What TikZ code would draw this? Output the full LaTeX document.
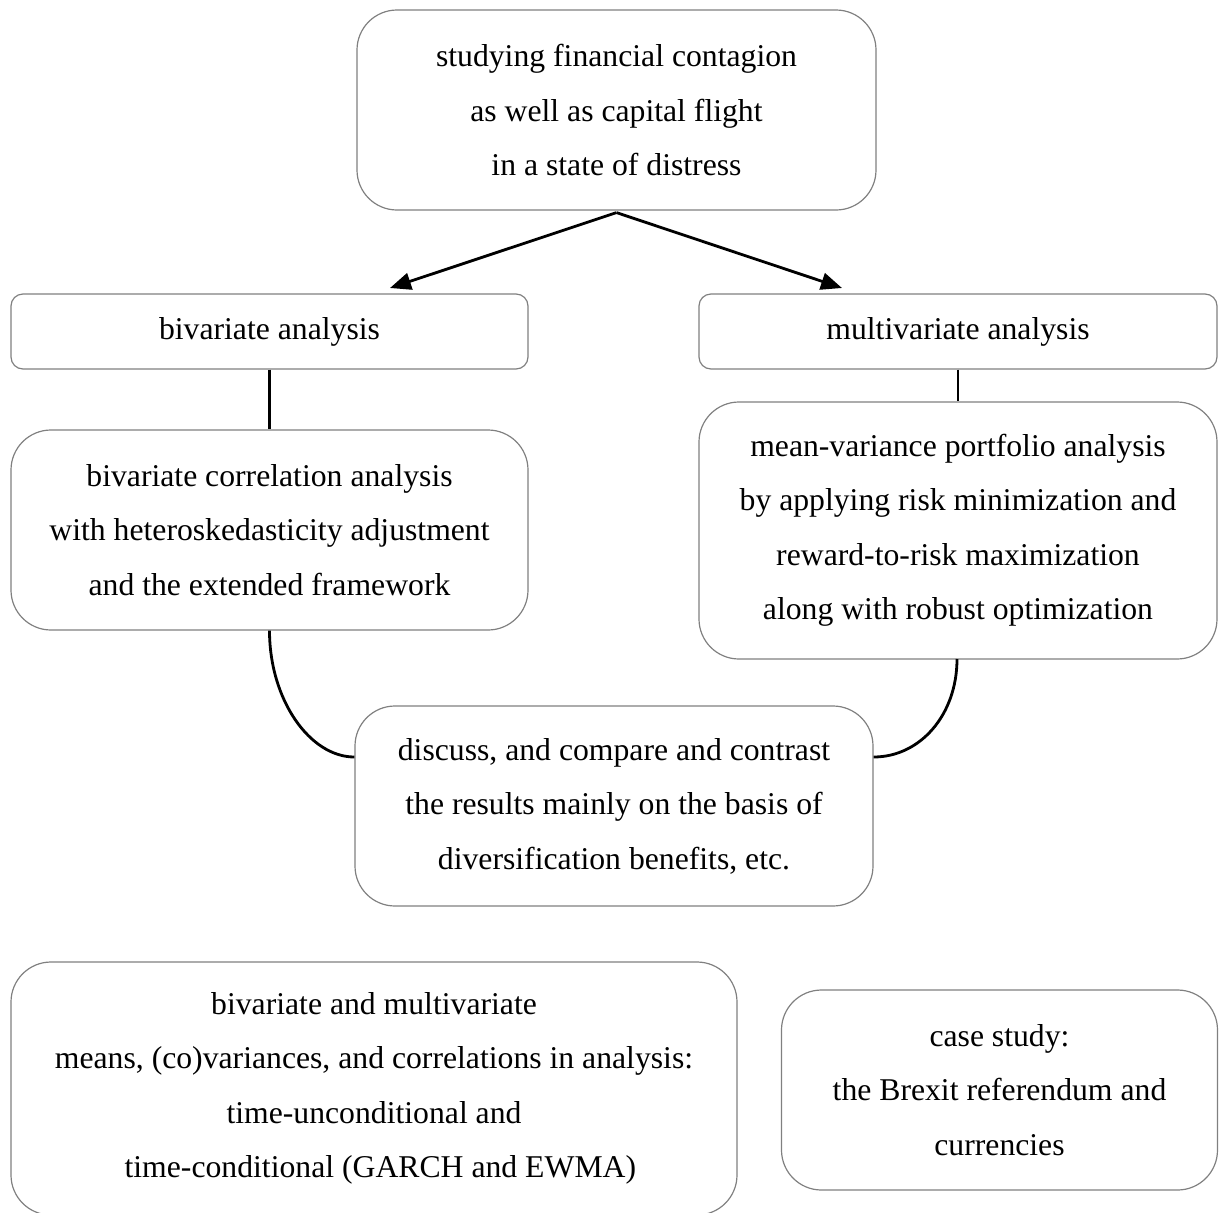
\documentclass[tikz,border=0pt]{standalone}
\usepackage{fontspec}
\setmainfont{Liberation Serif}
\usetikzlibrary{arrows.meta}
\begin{document}
\begin{tikzpicture}[x=1pt,y=-1pt,
  box/.style={draw=black!50, line width=1.2pt, rounded corners=40pt, align=center,
    inner sep=0pt, font=\fontsize{31.7}{54.5}\selectfont},
  sbox/.style={box, rounded corners=12pt},
  conn/.style={line width=2.8pt, black},
  arr/.style={conn, -{Triangle[length=21pt,width=17pt]}}]
\useasboundingbox (0,0) rectangle (1219,1213);
\begin{scope}
\clip (0,0) rectangle (1219,1213);
\node[box, minimum width=519pt, minimum height=200pt] (top) at (616.5,110)
  {studying financial contagion\\as well as capital flight\\in a state of distress};
\node[sbox, minimum width=517pt, minimum height=75pt] (biv) at (269.5,331.5) {bivariate analysis};
\node[sbox, minimum width=518pt, minimum height=75pt] (mult) at (958,331.5) {multivariate analysis};
\node[box, minimum width=517pt, minimum height=200pt] (bcorr) at (269.5,530)
  {bivariate correlation analysis\\with heteroskedasticity adjustment\\and the extended framework};
\node[box, minimum width=518pt, minimum height=257pt] (mv) at (958,530.5)
  {mean-variance portfolio analysis\\by applying risk minimization and\\reward-to-risk maximization\\along with robust optimization};
\node[box, minimum width=518pt, minimum height=200pt] (disc) at (614,806)
  {discuss, and compare and contrast\\the results mainly on the basis of\\diversification benefits, etc.};
\node[box, minimum width=726pt, minimum height=253pt] (bm) at (374,1088.5)
  {bivariate and multivariate\\means, (co)variances, and correlations in analysis:\\time-unconditional and\\\hspace*{0.4em}time-conditional (GARCH and EWMA)};
\node[box, minimum width=436pt, minimum height=200pt] (case) at (999.5,1090)
  {case study:\\the Brexit referendum and\\currencies};
\end{scope}
\coordinate (split) at ([yshift=-2pt]top.south);
\draw[arr] (split) -- (390,288);
\draw[arr] (split) -- (842,288);
\draw[conn] (biv.south) -- (bcorr.north);
\draw[conn] (mult.south) -- (mv.north);
\coordinate (dl) at ([yshift=49pt]disc.west);
\coordinate (dr) at ([yshift=49pt]disc.east);
\draw[conn] (bcorr.south) .. controls (269.5,700) and (310,757) .. (dl);
\draw[conn] (957,659) .. controls (957,715) and (920,757) .. (dr);
\end{tikzpicture}
\end{document}
